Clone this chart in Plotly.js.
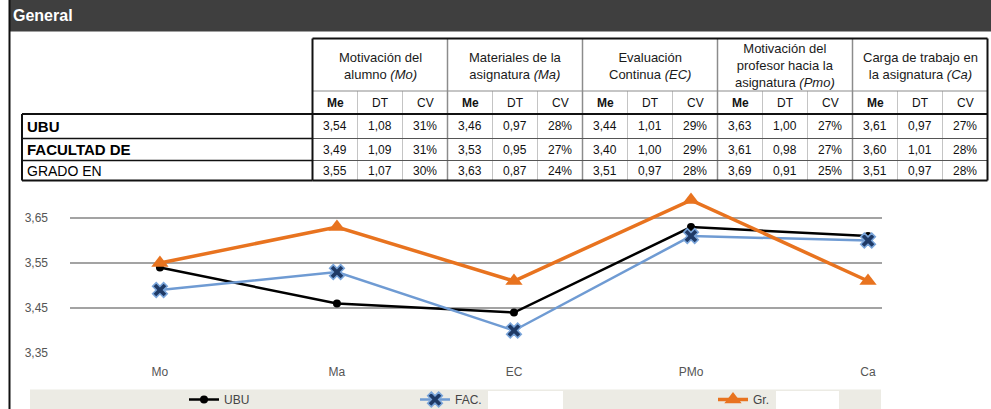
<!DOCTYPE html>
<html>
<head>
<meta charset="utf-8">
<script src="https://cdn.plot.ly/plotly-3.0.1.min.js"></script>
<style>html,body{margin:0;padding:0;background:#fff;}#chart{width:991px;height:409px;}</style>
</head>
<body>
<div id="chart"></div>
<script>
// ---- data ----
const categories = ['Mo', 'Ma', 'EC', 'PMo', 'Ca'];
const groupTitles = [
  'Motivación del<br>alumno <i>(Mo)</i>',
  'Materiales de la<br>asignatura <i>(Ma)</i>',
  'Evaluación<br>Continua <i>(EC)</i>',
  'Motivación del<br>profesor hacia la<br>asignatura <i>(Pmo)</i>',
  'Carga de trabajo en<br>la asignatura <i>(Ca)</i>'
];
const subHeaders = ['Me', 'DT', 'CV'];
const rowLabels = ['UBU', 'FACULTAD DE', 'GRADO EN'];
const legendNames = ['UBU', 'FAC.', 'Gr.'];
const sectionTitle = 'General';

const meUBU = [3.54, 3.46, 3.44, 3.63, 3.61];
const dtUBU = [1.08, 0.97, 1.01, 1.00, 0.97];
const cvUBU = [31, 28, 29, 27, 27];
const meFAC = [3.49, 3.53, 3.40, 3.61, 3.60];
const dtFAC = [1.09, 0.95, 1.00, 0.98, 1.01];
const cvFAC = [31, 27, 29, 27, 28];
const meGRA = [3.55, 3.63, 3.51, 3.69, 3.51];
const dtGRA = [1.07, 0.87, 0.97, 0.91, 0.97];
const cvGRA = [30, 24, 28, 25, 28];

const yTicks = [3.35, 3.45, 3.55, 3.65];

// ---- geometry helpers (pixel -> paper) ----
const W = 991, H = 409;
const M = {l: 70, r: 109, t: 196, b: 56, autoexpand: false};
const PW = W - M.l - M.r, PH = H - M.t - M.b;
const X = p => (p - M.l) / PW;
const Y = p => (H - M.b - p) / PH;
const fmt = v => v.toFixed(2).replace('.', ',');

const shapes = [];
const annotations = [];
function rect(x0, y0, x1, y1, fill, lineColor, lw) {
  shapes.push({type: 'rect', xref: 'paper', yref: 'paper', x0: X(x0), x1: X(x1), y0: Y(y1), y1: Y(y0),
    fillcolor: fill || 'rgba(0,0,0,0)', line: {color: lineColor || 'rgba(0,0,0,0)', width: lw || 0}, layer: 'below'});
}
function line(x0, y0, x1, y1, color, lw) {
  shapes.push({type: 'line', xref: 'paper', yref: 'paper', x0: X(x0), x1: X(x1), y0: Y(y0), y1: Y(y1),
    line: {color: color, width: lw}, layer: 'above'});
}
function text(t, x, y, opts) {
  opts = opts || {};
  annotations.push({xref: 'paper', yref: 'paper', x: X(x), y: Y(y), text: t, showarrow: false,
    xanchor: opts.xanchor || 'center', yanchor: 'middle', align: 'center',
    font: Object.assign({family: 'Liberation Sans, Arial, sans-serif', size: 12, color: '#111'}, opts.font || {})});
}

// header bar
rect(9, 0, 991, 31.5, '#3f3f3f');
text(sectionTitle, 11, 16, {xanchor: 'left', font: {size: 16, color: '#fff', weight: 'bold'}});
// left frame line
line(9.5, 0, 9.5, 409, '#111', 2);

// table geometry
const tL = 312.5, gW = 135, tR = tL + 5 * gW;
const yTop = 38.5, yGrp = 91, yData = 114, rowLines = [114, 138.5, 160.5, 180.5];

// group titles & subheaders
groupTitles.forEach((g, i) => {
  const gx = tL + i * gW;
  text(g, gx + gW / 2, 65.5, {font: {size: 13, color: '#1a1a1a'}});
  subHeaders.forEach((s, j) => {
    text(s, gx + gW / 6 + j * gW / 3, 102.5, {font: {size: 12, color: '#111', weight: j === 0 ? 'bold' : 'normal'}});
  });
});

// data cells
const rows = [[meUBU, dtUBU, cvUBU], [meFAC, dtFAC, cvFAC], [meGRA, dtGRA, cvGRA]];
rows.forEach((r, ri) => {
  const cy = (rowLines[ri] + rowLines[ri + 1]) / 2;
  const fw = ri < 2 ? 'bold' : 'normal';
  text(rowLabels[ri], 25, cy, {xanchor: 'left', font: {size: ri < 2 ? 15 : 14, color: '#000', weight: fw}});
  categories.forEach((c, i) => {
    const gx = tL + i * gW;
    text(fmt(r[0][i]), gx + gW / 6, cy);
    text(fmt(r[1][i]), gx + gW / 2, cy);
    text(r[2][i] + '%', gx + 5 * gW / 6, cy);
  });
});

// table lines
for (let i = 1; i < 5; i++) line(tL + i * gW, yTop, tL + i * gW, 180.5, '#8c8c8c', 1.5);
for (let i = 0; i < 5; i++) {
  for (let j = 1; j < 3; j++) line(tL + i * gW + j * gW / 3, yGrp, tL + i * gW + j * gW / 3, 180.5, '#c4c4c4', 1);
}
line(tL, yGrp, tR, yGrp, '#8c8c8c', 1.2);
line(tL, 138.5, tR, 138.5, '#555', 1);
line(tL, 160.5, tR, 160.5, '#555', 1);
line(tL, yTop, tR, yTop, '#111', 2);
line(tL, yData, tR, yData, '#111', 2);
line(tL, 180.5, tR, 180.5, '#111', 2);
line(tL, yTop, tL, 180.5, '#111', 2);
line(tR, yTop, tR, 180.5, '#111', 2);
// label box
line(22, yData, tL, yData, '#111', 2);
line(22, 180.5, tL, 180.5, '#111', 2);
line(22, yData, 22, 180.5, '#111', 2);
line(22, 138.5, tL, 138.5, '#111', 1.5);
line(22, 160.5, tL, 160.5, '#111', 1.5);

// legend band and redaction blocks
rect(30, 389.5, 881, 409, '#ecebe4');
rect(488, 391, 563, 409, '#ffffff');
rect(776, 391, 839, 409, '#ffffff');

const traces = [
  {x: categories, y: meUBU, name: legendNames[0], type: 'scatter', mode: 'lines+markers', legend: 'legend',
   line: {color: '#000000', width: 2.5}, marker: {symbol: 'circle', size: 8, color: '#000'}, cliponaxis: false},
  {x: categories, y: meFAC, name: legendNames[1], type: 'scatter', mode: 'lines+markers', legend: 'legend2',
   line: {color: '#6f9bd3', width: 2.5}, marker: {symbol: 'x', size: 13, color: '#1f3a66', line: {color: '#7aa5da', width: 1.5}}, cliponaxis: false},
  {x: categories, y: meGRA, name: legendNames[2], type: 'scatter', mode: 'lines+markers', legend: 'legend3',
   line: {color: '#e8731f', width: 3.5}, marker: {symbol: 'triangle-up', size: 15, color: '#e8731f'}, cliponaxis: false}
];

const legendBase = {orientation: 'h', xanchor: 'left', yanchor: 'middle', y: Y(399.5), bgcolor: 'rgba(0,0,0,0)',
  font: {family: 'Liberation Sans, Arial, sans-serif', size: 12, color: '#444'}, borderwidth: 0};

const layout = {
  width: W, height: H,
  margin: M,
  paper_bgcolor: '#fff', plot_bgcolor: '#fff',
  separators: ', ',
  showlegend: true,
  legend: Object.assign({}, legendBase, {x: X(184)}),
  legend2: Object.assign({}, legendBase, {x: X(415)}),
  legend3: Object.assign({}, legendBase, {x: X(713)}),
  xaxis: {type: 'category', range: [-0.508, 4.079], showgrid: false, zeroline: false, showline: false, ticks: '',
    ticklabelstandoff: 10, tickfont: {family: 'Liberation Sans, Arial, sans-serif', size: 12, color: '#555'}, fixedrange: true},
  yaxis: {range: [3.35, 3.699], tickvals: yTicks, tickformat: '.2f', showgrid: true, gridcolor: '#a3a3a3', gridwidth: 1.2,
    zeroline: false, showline: false, ticks: '', ticklabelstandoff: 21,
    tickfont: {family: 'Liberation Sans, Arial, sans-serif', size: 12, color: '#555'}, fixedrange: true},
  shapes: shapes,
  annotations: annotations
};

Plotly.newPlot('chart', traces, layout, {displayModeBar: false, staticPlot: true});
</script>
</body>
</html>
